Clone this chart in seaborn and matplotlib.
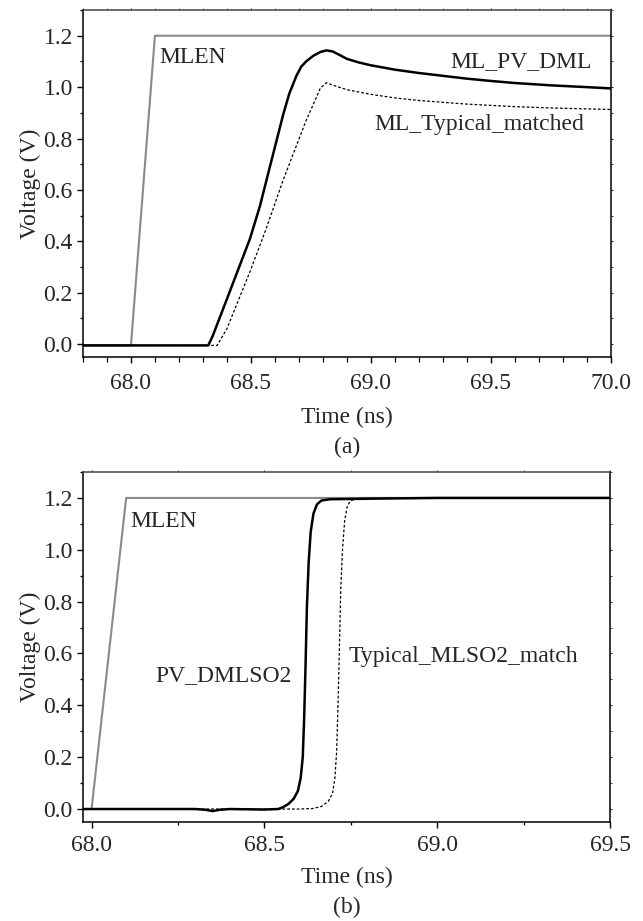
import matplotlib
matplotlib.use('Agg')
import matplotlib.pyplot as plt
from matplotlib.ticker import MultipleLocator, FormatStrFormatter
import seaborn as sns
import pandas as pd

# (a) match-line waveforms
a_mlen_t = [67.8, 68.0, 68.1, 70.0]
a_mlen_v = [-0.005, -0.005, 1.2, 1.2]

a_pv_t = [67.8, 68.322, 68.34, 68.4125, 68.496, 68.5375, 68.579, 68.635, 68.66, 68.69,
          68.71, 68.73, 68.76, 68.79, 68.815, 68.84, 68.87, 68.9, 68.95, 69.0, 69.1,
          69.2, 69.3, 69.4, 69.5, 69.6, 69.75, 69.9, 70.0]
a_pv_v = [-0.005, -0.005, 0.03, 0.206, 0.41, 0.537, 0.69, 0.895, 0.975, 1.045,
          1.08, 1.10, 1.122, 1.137, 1.143, 1.139, 1.125, 1.11, 1.096, 1.085, 1.068,
          1.055, 1.044, 1.033, 1.024, 1.016, 1.007, 1.0, 0.995]

a_typ_t = [67.8, 68.359, 68.40, 68.496, 68.56, 68.635, 68.73, 68.79, 68.815, 68.85,
           68.9, 69.0, 69.1, 69.2, 69.3, 69.4, 69.5, 69.6, 69.75, 70.0]
a_typ_v = [-0.005, -0.005, 0.06, 0.282, 0.44, 0.64, 0.87, 0.997, 1.017, 1.005,
           0.99, 0.972, 0.958, 0.948, 0.941, 0.934, 0.929, 0.924, 0.919, 0.913]

# (b) sense-amp outputs
b_mlen_t = [67.975, 68.0, 68.1, 69.5]
b_mlen_v = [0.0, 0.0, 1.2, 1.2]

b_pv_t = [67.975, 68.3, 68.33, 68.35, 68.37, 68.4, 68.5, 68.54, 68.555, 68.57, 68.585,
          68.597, 68.605, 68.611, 68.615, 68.619, 68.623, 68.628, 68.634, 68.642,
          68.652, 68.665, 68.69, 68.8, 69.0, 69.5]
b_pv_v = [0.0, 0.0, -0.003, -0.008, -0.003, 0.0, -0.002, 0.0, 0.008, 0.02, 0.04,
          0.07, 0.12, 0.2, 0.35, 0.55, 0.78, 0.95, 1.07, 1.14,
          1.175, 1.19, 1.195, 1.197, 1.2, 1.2]

b_typ_t = [67.975, 68.6, 68.64, 68.665, 68.685, 68.697, 68.704, 68.709, 68.713, 68.717,
           68.721, 68.726, 68.732, 68.74, 68.75, 68.77, 69.0, 69.5]
b_typ_v = [0.0, 0.0, 0.002, 0.01, 0.03, 0.06, 0.12, 0.22, 0.4, 0.62,
           0.85, 1.0, 1.11, 1.17, 1.19, 1.198, 1.2, 1.2]

sns.set_style('ticks')
plt.rcParams['font.family'] = ['Liberation Serif', 'DejaVu Serif']
plt.rcParams['font.size'] = 17

fig = plt.figure(figsize=(6.43, 9.21), dpi=100)
ax1 = fig.add_axes([0.129, 0.6124, 0.821, 0.3767])
ax2 = fig.add_axes([0.129, 0.1075, 0.8197, 0.38])

GRAY = '#8a8a8a'


def draw(ax, mlen, pv, typ):
    sns.lineplot(data=pd.DataFrame({'t': mlen[0], 'v': mlen[1]}), x='t', y='v', ax=ax,
                 color=GRAY, lw=1.5, sort=False, estimator=None)
    sns.lineplot(data=pd.DataFrame({'t': typ[0], 'v': typ[1]}), x='t', y='v', ax=ax,
                 color='black', lw=0.9, sort=False, estimator=None)
    ax.lines[-1].set_dashes((2.2, 1.6))
    sns.lineplot(data=pd.DataFrame({'t': pv[0], 'v': pv[1]}), x='t', y='v', ax=ax,
                 color='black', lw=1.8, sort=False, estimator=None)


def style(ax, xlim, xminor, xpad, labelpad):
    ax.set_xlim(*xlim)
    ax.set_ylim(-0.05, 1.3)
    ax.xaxis.set_major_locator(MultipleLocator(0.5))
    ax.xaxis.set_minor_locator(MultipleLocator(xminor))
    ax.yaxis.set_major_locator(MultipleLocator(0.2))
    ax.yaxis.set_minor_locator(MultipleLocator(0.1))
    ax.xaxis.set_major_formatter(FormatStrFormatter('%.1f'))
    ax.yaxis.set_major_formatter(FormatStrFormatter('%.1f'))
    ax.tick_params(which='major', direction='out', length=4.3, width=1.0, pad=3,
                   labelsize=17, color='black')
    ax.tick_params(which='minor', direction='out', length=2.2, width=0.9, color='black')
    ax.tick_params(axis='x', which='major', pad=xpad)
    ax.tick_params(axis='x', which='minor', length=3.5 if xminor < 0.2 else 1.8)
    for s in ax.spines.values():
        s.set_visible(True)
        s.set_linewidth(1.1)
        s.set_color('black')
    ax.spines['top'].set_color('#444444')
    sec = ax.secondary_xaxis('top')
    sec.xaxis.set_major_locator(MultipleLocator(0.5))
    sec.xaxis.set_minor_locator(MultipleLocator(xminor))
    sec.tick_params(which='both', direction='out', length=1.5, labeltop=False, color='#444444')
    sec.spines['top'].set_visible(False)
    secy = ax.secondary_yaxis('right')
    secy.yaxis.set_major_locator(MultipleLocator(0.2))
    secy.yaxis.set_minor_locator(MultipleLocator(0.1))
    secy.tick_params(which='both', direction='out', length=1.5, labelright=False)
    secy.spines['right'].set_visible(False)
    ax.set_xlabel('Time (ns)', fontsize=17, labelpad=labelpad)
    ax.set_ylabel('Voltage (V)', fontsize=17, labelpad=2)


draw(ax1, (a_mlen_t, a_mlen_v), (a_pv_t, a_pv_v), (a_typ_t, a_typ_v))
style(ax1, (67.8, 70.0), 0.1, 7.3, 9)
ax1.text(68.12, 1.115, 'MLEN', fontsize=17, va='center', ha='left')
ax1.text(69.92, 1.10, 'ML_PV_DML', fontsize=17, va='center', ha='right')
ax1.text(69.89, 0.855, 'ML_Typical_matched', fontsize=17, va='center', ha='right')

draw(ax2, (b_mlen_t, b_mlen_v), (b_pv_t, b_pv_v), (b_typ_t, b_typ_v))
style(ax2, (67.975, 69.5), 0.25, 5, 7.6)
ax2.text(68.113, 1.11, 'MLEN', fontsize=17, va='center', ha='left')
ax2.text(68.184, 0.514, 'PV_DMLSO2', fontsize=17, va='center', ha='left')
ax2.text(68.744, 0.588, 'Typical_MLSO2_match', fontsize=17, va='center', ha='left')

fig.text(0.5 * (0.129 + 0.950), 1 - 447 / 921, '(a)', fontsize=17, ha='center', va='center')
fig.text(0.5 * (0.129 + 0.949), 1 - 907 / 921, '(b)', fontsize=17, ha='center', va='center')

plt.savefig('out.png', dpi=100)
plt.close()
